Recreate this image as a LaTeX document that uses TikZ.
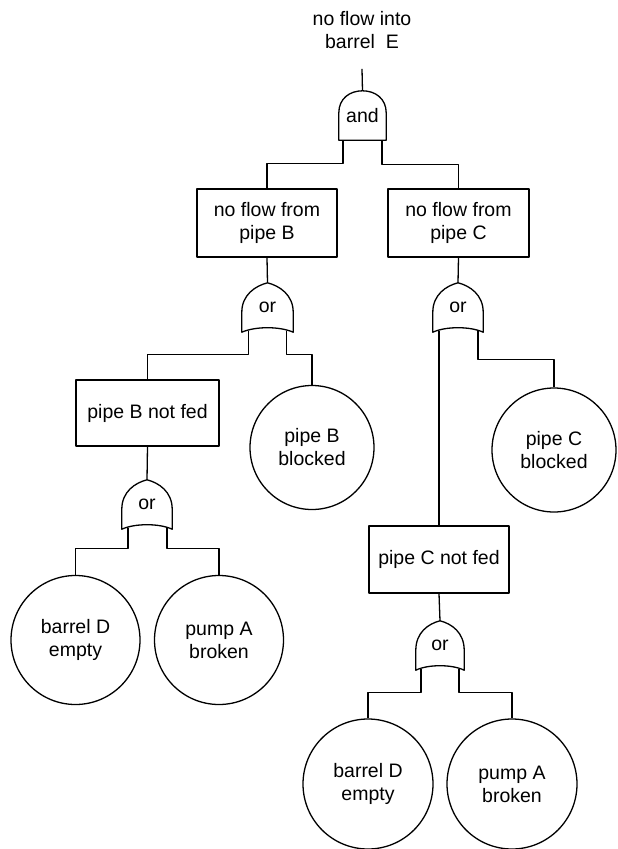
\documentclass[tikz,border=0pt]{standalone}
\usepackage{fontspec}
\setmainfont{Liberation Sans}
\usetikzlibrary{calc}
\tikzset{
  ln/.style={line width=1.3pt, line join=round},
  evbox/.style={ln, draw, rectangle, align=center, inner sep=2pt},
  evcirc/.style={ln, draw, circle, align=center, inner sep=0pt},
  gatebox/.style={inner sep=0pt, minimum width=50pt, minimum height=49pt},
  conn/.style={ln}
}
\newcommand\orgate[1]{\draw[ln] (#1.south west) -- ($(#1.south west)+(0,-20)$)
  .. controls ($(#1.north west)+(0,12)$) and ($(#1.north)+(-12,3)$) .. (#1.north)
  .. controls ($(#1.north)+(12,3)$) and ($(#1.north east)+(0,12)$) .. ($(#1.south east)+(0,-20)$)
  -- (#1.south east)
  .. controls ($(#1.south)+(12,-6)$) and ($(#1.south)+(-12,-6)$) .. cycle;}
\newcommand\andgate[1]{\draw[ln] (#1.south west) -- ($(#1.north west)+(0,22)$)
  .. controls ($(#1.north west)+(0,8)$) and ($(#1.north)+(-13,0)$) .. (#1.north)
  .. controls ($(#1.north)+(13,0)$) and ($(#1.north east)+(0,8)$) .. ($(#1.north east)+(0,22)$)
  -- (#1.south east) -- cycle;}
\begin{document}
\begin{tikzpicture}[x=1pt,y=-1pt,font=\fontsize{19.5}{23}\selectfont]
\useasboundingbox (0,0) rectangle (618,849);
% top event
\node[align=center, inner xsep=0pt, inner ysep=20pt] (top) at (362,30) {no flow into\\barrel\ \ E};
% and gate
\node[gatebox, minimum width=47pt] (gA) at (362.5,115.5) {and};
\andgate{gA}
% level 1 boxes
\node[evbox, minimum width=140pt, minimum height=68pt] (bB) at (267,223) {no flow from\\pipe B};
\node[evbox, minimum width=141pt, minimum height=68pt] (bC) at (458.5,223) {no flow from\\pipe C};
% or gates level 1
\node[gatebox, minimum width=51pt] (gB) at (267.5,307.5) {or};
\orgate{gB}
\node[gatebox] (gC) at (458,307.5) {or};
\orgate{gC}
% level 2
\node[evbox, minimum width=143pt, minimum height=66pt] (nfB) at (147.5,413) {pipe B not fed};
\node[evcirc, minimum size=124pt] (blB) at (312,447.5) {pipe B\\blocked};
\node[evcirc, minimum size=124pt] (blC) at (554,450) {pipe C\\blocked};
\node[evbox, minimum width=140pt, minimum height=67pt] (nfC) at (439,559.5) {pipe C not fed};
% lower gates
\node[gatebox] (gD) at (147,504.5) {or};
\orgate{gD}
\node[gatebox, minimum width=48pt] (gE) at (440,645.5) {or};
\orgate{gE}
% basic events
\node[evcirc, minimum size=129pt] (dB) at (75.5,640) {barrel D\\empty};
\node[evcirc, minimum size=129pt] (pB) at (219,640) {pump A\\broken};
\node[evcirc, minimum size=130pt] (dC) at (368,784) {barrel D\\empty};
\node[evcirc, minimum size=130pt] (pC) at (512,784) {pump A\\broken};
% connectors
\draw[conn] (top.south) -- (gA.north);
\draw[conn] ($(gA.south)+(-19.5,0)$) -- ++(0,23) -| (bB.north);
\draw[conn] ($(gA.south)+(19.5,0)$) -- ++(0,24) -| (bC.north);
\draw[conn] (bB.south) -- (gB.north);
\draw[conn] (bC.south) -- (gC.north);
\draw[conn] ($(gB.south)+(-19,-1.5)$) -- ++(0,23.5) -| (nfB.north);
\draw[conn] ($(gB.south)+(19,-1.5)$) -- ++(0,23.5) -| (blB.north);
\draw[conn] ($(gC.south)+(-19,-1.5)$) -- (nfC.north);
\draw[conn] ($(gC.south)+(20,-1.5)$) -- ++(0,28.5) -| (blC.north);
\draw[conn] (nfB.south) -- (gD.north);
\draw[conn] ($(gD.south)+(-19,-1.5)$) -- ++(0,20.5) -| (dB.north);
\draw[conn] ($(gD.south)+(20,-1.5)$) -- ++(0,20.5) -| (pB.north);
\draw[conn] (nfC.south) -- (gE.north);
\draw[conn] ($(gE.south)+(-19,-1.5)$) -- ++(0,23.5) -| (dC.north);
\draw[conn] ($(gE.south)+(19,-1.5)$) -- ++(0,23.5) -| (pC.north);
\end{tikzpicture}
\end{document}
